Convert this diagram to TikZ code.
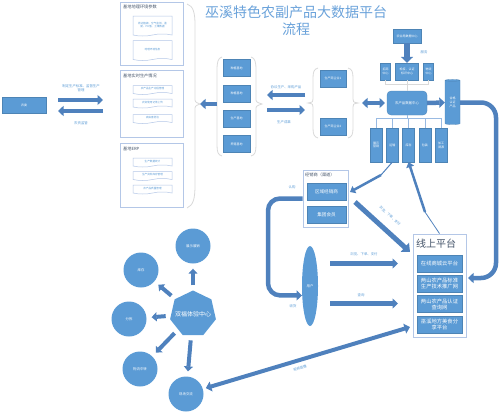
\documentclass[tikz,border=0pt]{standalone}
\usepackage{fontspec}
\setmainfont{Noto Sans CJK SC}
\usetikzlibrary{positioning, arrows.meta, calc, shapes.geometric, shapes.symbols}

\definecolor{boxblue}{HTML}{5B9BD5}
\definecolor{arrowblue}{HTML}{4F81BD}
\definecolor{panelline}{HTML}{B4C7E7}
\definecolor{bracegray}{HTML}{D9D9D9}
\definecolor{titleblue}{HTML}{6AA2DA}
\definecolor{paneltext}{HTML}{44546A}

\begin{document}
\begin{tikzpicture}[
    x=1pt, y=-1pt,
    node distance=8pt and 4pt, % default vertical and horizontal node distance
    bluebox/.style={fill=boxblue, draw=boxblue!85!black, line width=0.3pt, text=white, font=\fontsize{3}{3.8}\selectfont, inner sep=0.5pt, align=center},
    panel/.style={draw=panelline, line width=0.9pt, fill=white},
    paneltitle/.style={font=\fontsize{4.2}{5}\selectfont, text=paneltext, anchor=west, inner sep=0pt},
    docbox/.style={tape, tape bend top=none, tape bend height=2pt, draw=panelline, line width=0.5pt, fill=white, minimum width=39pt, font=\fontsize{2.6}{3.3}\selectfont, text=boxblue, align=center, inner sep=0.5pt},
    labelstyle/.style={font=\fontsize{3.4}{4.2}\selectfont, text=boxblue, inner sep=0.5pt, align=center},
    bracket/.style={draw=bracegray, line width=0.8pt},
    link/.style={draw=panelline!70!boxblue, line width=0.6pt},
    ballnode/.style={circle, fill=boxblue, minimum size=35pt, inner sep=0pt, text=white, font=\fontsize{3.4}{4}\selectfont},
    bigarrow/.style={draw=arrowblue, line width=4.5pt, -{Triangle[length=5.5pt, width=10pt]}},
    thinarrow/.style={draw=arrowblue, line width=2.5pt, -{Triangle[length=5pt, width=8pt]}},
    hubarrow/.style={draw=arrowblue, line width=4pt, -{Triangle[length=5pt, width=9pt]}, shorten <=5pt, shorten >=5pt}
]
\useasboundingbox (0,0) rectangle (500,415);

% Header text
\node (title) [font=\fontsize{14}{17}\selectfont, text=titleblue, align=center] at (296,21) {巫溪特色农副产品大数据平台\\流程};

% Agriculture committee and its two arrows
\node (nw_box) [bluebox, minimum width=44pt, minimum height=16pt] at (24,105) {农委};
\coordinate (std_start) at (58,100);
\coordinate (std_end) at (103,100);
\draw[bigarrow] (std_start) -- (std_end);
\node (std_label) [labelstyle] at (81,88) {制定生产标准、监督生产\\管理};
\coordinate (sup_start) at (103,111);
\coordinate (sup_end) at (58,111);
\draw[bigarrow] (sup_start) -- (sup_end);
\node (sup_label) [labelstyle] at (81,123) {农资监管};

% Left column: three panels
\node (geo_panel) [panel, minimum width=63pt, minimum height=63pt] at (151.5,33.5) {};
\node (geo_title) [paneltitle] at (123,7) {基地地理环境参数};
\node (geo_doc1) [docbox, minimum height=20pt] at (152.5,25) {周边植被、空气监测、温\\度、PH值、土壤数据};
\node (geo_doc2) [docbox, minimum height=20pt, below=6pt of geo_doc1] {地理环境信息};

\node (prod_panel) [panel, minimum width=63pt, minimum height=67pt] at (151.5,103.5) {};
\node (prod_title) [paneltitle] at (123,76) {基地实时生产情况};
\node (prod_doc1) [docbox, minimum height=9pt] at (152.5,89) {农产品生产过程管理};
\node (prod_doc2) [docbox, minimum height=9pt, below=6pt of prod_doc1] {农资使用记录上传};
\node (prod_doc3) [docbox, minimum height=9pt, below=8pt of prod_doc2] {病虫害防治};

\node (erp_panel) [panel, minimum width=63pt, minimum height=64pt] at (151.5,175) {};
\node (erp_title) [paneltitle] at (123,149) {基地ERP};
\node (erp_doc1) [docbox, minimum height=9pt] at (152.5,161.5) {生产数据统计};
\node (erp_doc2) [docbox, minimum height=9pt, below=6pt of erp_doc1] {生产资料库存管理};
\node (erp_doc3) [docbox, minimum height=9pt, below=6pt of erp_doc2] {农产品质量管理};

% Brace round the left column
\draw[bracket] (187,4) .. controls (193,6) and (195,12) .. (195,25) -- (195,98)
    .. controls (195,102) .. (200,104) .. controls (195,106) .. (195,110) -- (195,185)
    .. controls (195,200) and (193,205) .. (187,208);

% Bases
\node (base1) [bluebox, minimum width=27pt, minimum height=17pt] at (236.5,68) {种植基地};
\node (base2) [bluebox, minimum width=27pt, minimum height=17pt, below=of base1] {种植基地};
\node (base3) [bluebox, minimum width=27pt, minimum height=17pt, below=of base2] {生产基地};
\node (base4) [bluebox, minimum width=27pt, minimum height=17pt, below=of base3] {养殖基地};
\draw[bracket] (222,57) .. controls (218,58) and (217,62) .. (217,70) -- (217,145)
    .. controls (217,152) and (218,155) .. (222,156);
\draw[bracket] (251,57) .. controls (255,58) and (256,62) .. (256,70) -- (256,98)
    .. controls (256,102) .. (262,104) .. controls (256,106) .. (256,110) -- (256,145)
    .. controls (256,152) and (255,155) .. (251,156);
\coordinate (base_out_start) at (217,104);
\coordinate (base_out_end) at (200,104);
\draw[bigarrow] (base_out_start) -- (base_out_end);

% Arrows between bases and enterprises
\coordinate (coop_start) at (305,95);
\coordinate (coop_end) at (267,95);
\draw[bigarrow] (coop_start) -- (coop_end);
\node (coop_label) [labelstyle] at (286,87) {协议生产、采购产品};
\coordinate (yield_start) at (267,110);
\coordinate (yield_end) at (305,110);
\draw[bigarrow] (yield_start) -- (yield_end);
\node (yield_label) [labelstyle] at (284,122) {生产成果};

% Enterprises
\node (ent1) [bluebox, minimum width=26pt, minimum height=17pt] at (333,78.5) {生产商企业1};
\node (ent2) [bluebox, minimum width=26pt, minimum height=17pt] at (333,126.5) {生产商企业2};
\draw[bracket] (318,68) .. controls (314,69) and (313,72) .. (313,78) -- (313,99)
    .. controls (313,102) .. (308,103) .. controls (313,104) .. (313,107) -- (313,128)
    .. controls (313,134) and (314,137) .. (318,138);
\draw[bracket] (348,68) .. controls (352,69) and (353,72) .. (353,78) -- (353,99)
    .. controls (353,102) .. (358,103) .. controls (353,104) .. (353,107) -- (353,128)
    .. controls (353,134) and (352,137) .. (348,138);
\coordinate (ent_link_start) at (362,103);
\coordinate (ent_link_end) at (385,103);
\draw[bigarrow, {Triangle[length=5.5pt, width=10pt]}-{Triangle[length=5.5pt, width=10pt]}] (ent_link_start) -- (ent_link_end);

% Data centre, service centres and certified store
\node (data_center) [bluebox, rounded corners=4pt, minimum width=40pt, minimum height=24pt, font=\fontsize{3.4}{4}\selectfont] at (407,103) {农产品数据中心};
\node (cert_store) [cylinder, shape border rotate=90, aspect=0.3, fill=boxblue, draw=boxblue!85!black, line width=0.3pt, minimum width=15pt, minimum height=45pt, text=white, font=\fontsize{3}{3.8}\selectfont, align=center, inner sep=0pt] at (452.5,102.5) {合格\\认证\\产品};
\draw[bigarrow] (data_center.east) -- (cert_store.west);

\node (agri_bureau) [bluebox, minimum width=28pt, minimum height=14pt] at (407,36) {农业局数据中心};
\node (svc1) [bluebox, minimum width=10pt, minimum height=17pt] at (385.5,71.5) {招商\\中心};
\node (svc2) [bluebox, minimum width=23pt, minimum height=17pt] at (407,71.5) {检疫、认证\\标识中心};
\node (svc3) [bluebox, minimum width=10pt, minimum height=17pt] at (428.5,71.5) {物流\\中心};
\draw[draw=arrowblue, line width=6pt, -{Triangle[length=6pt, width=12pt]}] (agri_bureau.south) -- (svc2.north);
\node (svc_label) [labelstyle] at (424,52) {服务};
\draw[bracket] (svc1.south) -- ++(0,4) -| (svc3.south);
\draw[bracket] (svc2.south) -- (data_center.north);

% Five departments under the data centre
\node (dc1) [bluebox, minimum width=12pt, minimum height=34pt] at (376,145) {展示\\营销};
\node (dc2) [bluebox, minimum width=12pt, minimum height=34pt, right=of dc1] {运输};
\node (dc3) [bluebox, minimum width=12pt, minimum height=34pt, right=of dc2] {库存};
\node (dc4) [bluebox, minimum width=12pt, minimum height=34pt, right=of dc3] {包装};
\node (dc5) [bluebox, minimum width=12pt, minimum height=34pt, right=of dc4] {加工\\溯源};
\coordinate (tree_top) at (407,118);
\draw[link] (data_center.south) -- (tree_top);
\draw[link] (dc1.north |- tree_top) -- (dc5.north |- tree_top);
\foreach \i in {1,...,5}
    \draw[link] (dc\i.north) -- (dc\i.north |- tree_top);

% Dealers
\node (dealer_panel) [panel, minimum width=45pt, minimum height=57pt] at (325.5,198.5) {};
\node (dealer_title) [paneltitle] at (305,175) {经销商（渠道）};
\node (dealer1) [bluebox, minimum width=39pt, minimum height=17pt, font=\fontsize{4.6}{5}\selectfont] at (326.5,191.5) {区域经销商};
\node (dealer2) [bluebox, minimum width=39pt, minimum height=17pt, font=\fontsize{4.6}{5}\selectfont, below=6pt of dealer1] {集团会员};
\node (buy_label) [labelstyle] at (292,187) {认购};

\coordinate (ship_bend) at (381,175);
\coordinate (ship_end) at (350,192);
\draw[draw=arrowblue, line width=1pt] (dc2.south) -- (ship_bend);
\draw[thinarrow] (ship_bend) -- (ship_end);

% User
\node (user) [ellipse, fill=boxblue, minimum width=16pt, minimum height=80pt, inner sep=0pt, text=white, font=\fontsize{3.4}{4}\selectfont] at (310,286) {用户};
\coordinate (ret_corner) at (268,295.3);
\draw[bigarrow, rounded corners=12pt] (dealer_panel.west) -| (ret_corner) -- (user.230);
\node (recv_label) [labelstyle] at (293,306) {收货};

% Online platform
\node (online_panel) [panel, minimum width=53pt, minimum height=103pt] at (439.5,285.5) {};
\node (online_title) [paneltitle, font=\fontsize{10}{12}\selectfont] at (416,244) {线上平台};
\node (online1) [bluebox, minimum width=45pt, minimum height=17pt, font=\fontsize{5.3}{6.2}\selectfont] at (439.5,263.5) {在线商城云平台};
\node (online2) [bluebox, minimum width=45pt, minimum height=17pt, font=\fontsize{5.3}{6.2}\selectfont, below=3pt of online1] {两山农产品标准\\生产技术推广网};
\node (online3) [bluebox, minimum width=45pt, minimum height=17pt, font=\fontsize{5.3}{6.2}\selectfont, below=3pt of online2] {两山农产品认证\\查询网};
\node (online4) [bluebox, minimum width=45pt, minimum height=17pt, font=\fontsize{5.3}{6.2}\selectfont, below=3pt of online3] {巫溪地方美食分\\享平台};

\coordinate (order_start) at (330,263.5);
\coordinate (order_end) at (398,263.5);
\draw[bigarrow] (order_start) -- (order_end);
\node (order_label) [labelstyle] at (364,254) {浏览、下单、支付};
\coordinate (query_start) at (330,303.5);
\coordinate (query_end) at (398,303.5);
\draw[bigarrow] (query_start) -- (query_end);
\node (query_label) [labelstyle] at (361,295) {查询};

\coordinate (diag_start) at (355,202);
\coordinate (diag_end) at (410,252);
\draw[bigarrow, line width=5pt, -{Triangle[length=7pt, width=12pt]}] (diag_start) -- (diag_end);
\node (diag_label) [labelstyle, rotate=-42] at (390,216) {浏览、下单、支付};

\coordinate (trace_bend) at (425,212);
\draw[draw=arrowblue, line width=0.8pt] (online_panel.north) -- (trace_bend);
\draw[thinarrow] (trace_bend) -- (dc3.south);

% Certified products go online
\coordinate (cert_corner) at (496,278);
\coordinate (cert_end) at (468,278);
\draw[bigarrow, rounded corners=15pt] (cert_store.east) -| (cert_corner) -- (cert_end);

% Experience centre
\node (hub) [regular polygon, regular polygon sides=7, fill=boxblue, minimum size=47pt, inner sep=0pt] at (193,314) {};
\node (hub_text) [text=white, font=\fontsize{6}{7}\selectfont, inner sep=0pt] at (hub.center) {双福体验中心};
\node (hub_show) [ballnode] at (193,246) {展示展销};
\node (hub_store) [ballnode] at (141,270) {库存};
\node (hub_sort) [ballnode] at (129,319) {分拣};
\node (hub_trans) [ballnode] at (140,369) {物流中转};
\node (hub_live) [ballnode] at (186,394) {现场交流};
\foreach \c in {hub_show, hub_store, hub_sort, hub_trans, hub_live}
    \draw[hubarrow] (hub) -- (\c);

\coordinate (live_end) at (410,327);
\draw[bigarrow, line width=4pt, {Triangle[length=5.5pt, width=10pt]}-{Triangle[length=5.5pt, width=10pt]}, shorten <=3pt] (hub_live) -- (live_end);
\node (live_label) [labelstyle, rotate=18] at (300,368) {视频直播};

\end{tikzpicture}
\end{document}
